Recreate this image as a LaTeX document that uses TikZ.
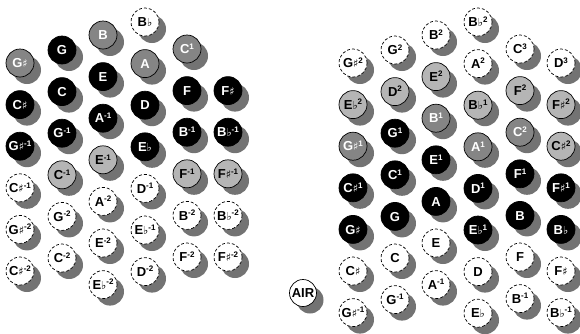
\documentclass[tikz,border=0pt]{standalone}
\usepackage{fontspec}
\setmainfont{Liberation Sans}
\newfontfamily\accfont{DejaVu Sans}
\usetikzlibrary{shadows}

\newcommand{\shp}{{\accfont\mdseries\fontsize{11}{11}\selectfont ♯}}
\newcommand{\flt}{{\accfont\mdseries\fontsize{11}{11}\selectfont ♭}}
\newcommand{\octv}[1]{\raisebox{4.3pt}{\fontsize{8}{8}\selectfont #1}}

\begin{document}
\begin{tikzpicture}[x=1pt, y=-1pt,
    key/.style={circle, draw=black, line width=0.7pt, minimum size=28pt, inner sep=0pt,
        text height=9.3pt, text depth=0pt, font=\bfseries\fontsize{13}{13}\selectfont,
        drop shadow={shadow xshift=7pt, shadow yshift=-7pt, fill=black!55, opacity=1}},
    blackkey/.style={key, fill=black, text=white},
    midkey/.style={key, fill=black!48, text=white},
    lightkey/.style={key, fill=black!29, text=black},
    openkey/.style={key, fill=white, text=black, dash pattern=on 3pt off 2pt}]
    \useasboundingbox (0,0) rectangle (580,333);

    % left side
    \node[midkey] (L-Gs) at (20,63) {G\shp};
    \node[blackkey] (L-Cs) at (20,104.6) {C\shp};
    \node[blackkey] (L-Gs-1) at (20,146.2) {G\shp\octv{-1}};
    \node[openkey] (L-Cs-1) at (20,187.8) {C\shp\octv{-1}};
    \node[openkey] (L-Gs-2) at (20,229.4) {G\shp\octv{-2}};
    \node[openkey] (L-Cs-2) at (20,271) {C\shp\octv{-2}};

    \node[blackkey] (L-G) at (62,50) {G};
    \node[blackkey] (L-C) at (62,91.6) {C};
    \node[blackkey] (L-G-1) at (62,133.2) {G\octv{-1}};
    \node[lightkey] (L-C-1) at (62,174.8) {C\octv{-1}};
    \node[openkey] (L-G-2) at (62,216.4) {G\octv{-2}};
    \node[openkey] (L-C-2) at (62,258) {C\octv{-2}};

    \node[midkey] (L-B) at (103,35) {B};
    \node[blackkey] (L-E) at (103,76.6) {E};
    \node[blackkey] (L-A-1) at (103,118.2) {A\octv{-1}};
    \node[lightkey] (L-E-1) at (103,159.8) {E\octv{-1}};
    \node[openkey] (L-A-2) at (103,201.4) {A\octv{-2}};
    \node[openkey] (L-E-2) at (103,243) {E\octv{-2}};
    \node[openkey] (L-Eb-2) at (103,284.6) {E\flt\octv{-2}};

    \node[openkey] (L-Bb) at (145,22) {B\flt};
    \node[midkey] (L-A) at (145,63.6) {A};
    \node[blackkey] (L-D) at (145,105.2) {D};
    \node[blackkey] (L-Eb) at (145,146.8) {E\flt};
    \node[openkey] (L-D-1) at (145,188.4) {D\octv{-1}};
    \node[openkey] (L-Eb-1) at (145,230) {E\flt\octv{-1}};
    \node[openkey] (L-D-2) at (145,271.6) {D\octv{-2}};

    \node[midkey] (L-C1) at (187,49) {C\octv{1}};
    \node[blackkey] (L-F) at (187,90.6) {F};
    \node[blackkey] (L-B-1) at (187,132.2) {B\octv{-1}};
    \node[lightkey] (L-F-1) at (187,173.8) {F\octv{-1}};
    \node[openkey] (L-B-2) at (187,215.4) {B\octv{-2}};
    \node[openkey] (L-F-2) at (187,257) {F\octv{-2}};

    \node[blackkey] (L-Fs) at (228,90.6) {F\shp};
    \node[blackkey] (L-Bb-1) at (228,132.2) {B\flt\octv{-1}};
    \node[lightkey] (L-Fs-1) at (228,173.8) {F\shp\octv{-1}};
    \node[openkey] (L-Bb-2) at (228,215.4) {B\flt\octv{-2}};
    \node[openkey] (L-Fs-2) at (228,257) {F\shp\octv{-2}};

    % right side
    \node[key, fill=white, minimum size=27pt] (R-air) at (303,293) {AIR};

    \node[openkey] (R-Gs2) at (353,63) {G\shp\octv{2}};
    \node[lightkey] (R-Eb2) at (353,104.6) {E\flt\octv{2}};
    \node[midkey] (R-Gs1) at (353,146.2) {G\shp\octv{1}};
    \node[blackkey] (R-Cs1) at (353,187.8) {C\shp\octv{1}};
    \node[blackkey] (R-Gs) at (353,229.4) {G\shp};
    \node[openkey] (R-Cs) at (353,271) {C\shp};
    \node[openkey] (R-Gs-1) at (353,312.6) {G\shp\octv{-1}};

    \node[openkey] (R-G2) at (395,50) {G\octv{2}};
    \node[lightkey] (R-D2) at (395,91.6) {D\octv{2}};
    \node[blackkey] (R-G1) at (395,133.2) {G\octv{1}};
    \node[blackkey] (R-C1) at (395,174.8) {C\octv{1}};
    \node[blackkey] (R-G) at (395,216.4) {G};
    \node[openkey] (R-C) at (395,258) {C};
    \node[openkey] (R-G-1) at (395,299.6) {G\octv{-1}};

    \node[openkey] (R-B2) at (436,35) {B\octv{2}};
    \node[lightkey] (R-E2) at (436,76.6) {E\octv{2}};
    \node[midkey] (R-B1) at (436,118.2) {B\octv{1}};
    \node[blackkey] (R-E1) at (436,159.8) {E\octv{1}};
    \node[blackkey] (R-A) at (436,201.4) {A};
    \node[openkey] (R-E) at (436,243) {E};
    \node[openkey] (R-A-1) at (436,284.6) {A\octv{-1}};

    \node[openkey] (R-Bb2) at (478,22) {B\flt\octv{2}};
    \node[openkey] (R-A2) at (478,63.6) {A\octv{2}};
    \node[lightkey] (R-Bb1) at (478,105.2) {B\flt\octv{1}};
    \node[midkey] (R-A1) at (478,146.8) {A\octv{1}};
    \node[blackkey] (R-D1) at (478,188.4) {D\octv{1}};
    \node[blackkey] (R-Eb1) at (478,230) {E\flt\octv{1}};
    \node[openkey] (R-D) at (478,271.6) {D};
    \node[openkey] (R-Eb) at (478,313.2) {E\flt};

    \node[openkey] (R-C3) at (520,49) {C\octv{3}};
    \node[lightkey] (R-F2) at (520,90.6) {F\octv{2}};
    \node[midkey] (R-C2) at (520,132.2) {C\octv{2}};
    \node[blackkey] (R-F1) at (520,173.8) {F\octv{1}};
    \node[blackkey] (R-B) at (520,215.4) {B};
    \node[openkey] (R-F) at (520,257) {F};
    \node[openkey] (R-B-1) at (520,298.6) {B\octv{-1}};

    \node[openkey] (R-D3) at (561,63) {D\octv{3}};
    \node[lightkey] (R-Fs2) at (561,104.6) {F\shp\octv{2}};
    \node[lightkey] (R-Cs2) at (561,146.2) {C\shp\octv{2}};
    \node[blackkey] (R-Fs1) at (561,187.8) {F\shp\octv{1}};
    \node[blackkey] (R-Bb) at (561,229.4) {B\flt};
    \node[openkey] (R-Fs) at (561,271) {F\shp};
    \node[openkey] (R-Bb-1) at (561,312.6) {B\flt\octv{-1}};
\end{tikzpicture}
\end{document}
